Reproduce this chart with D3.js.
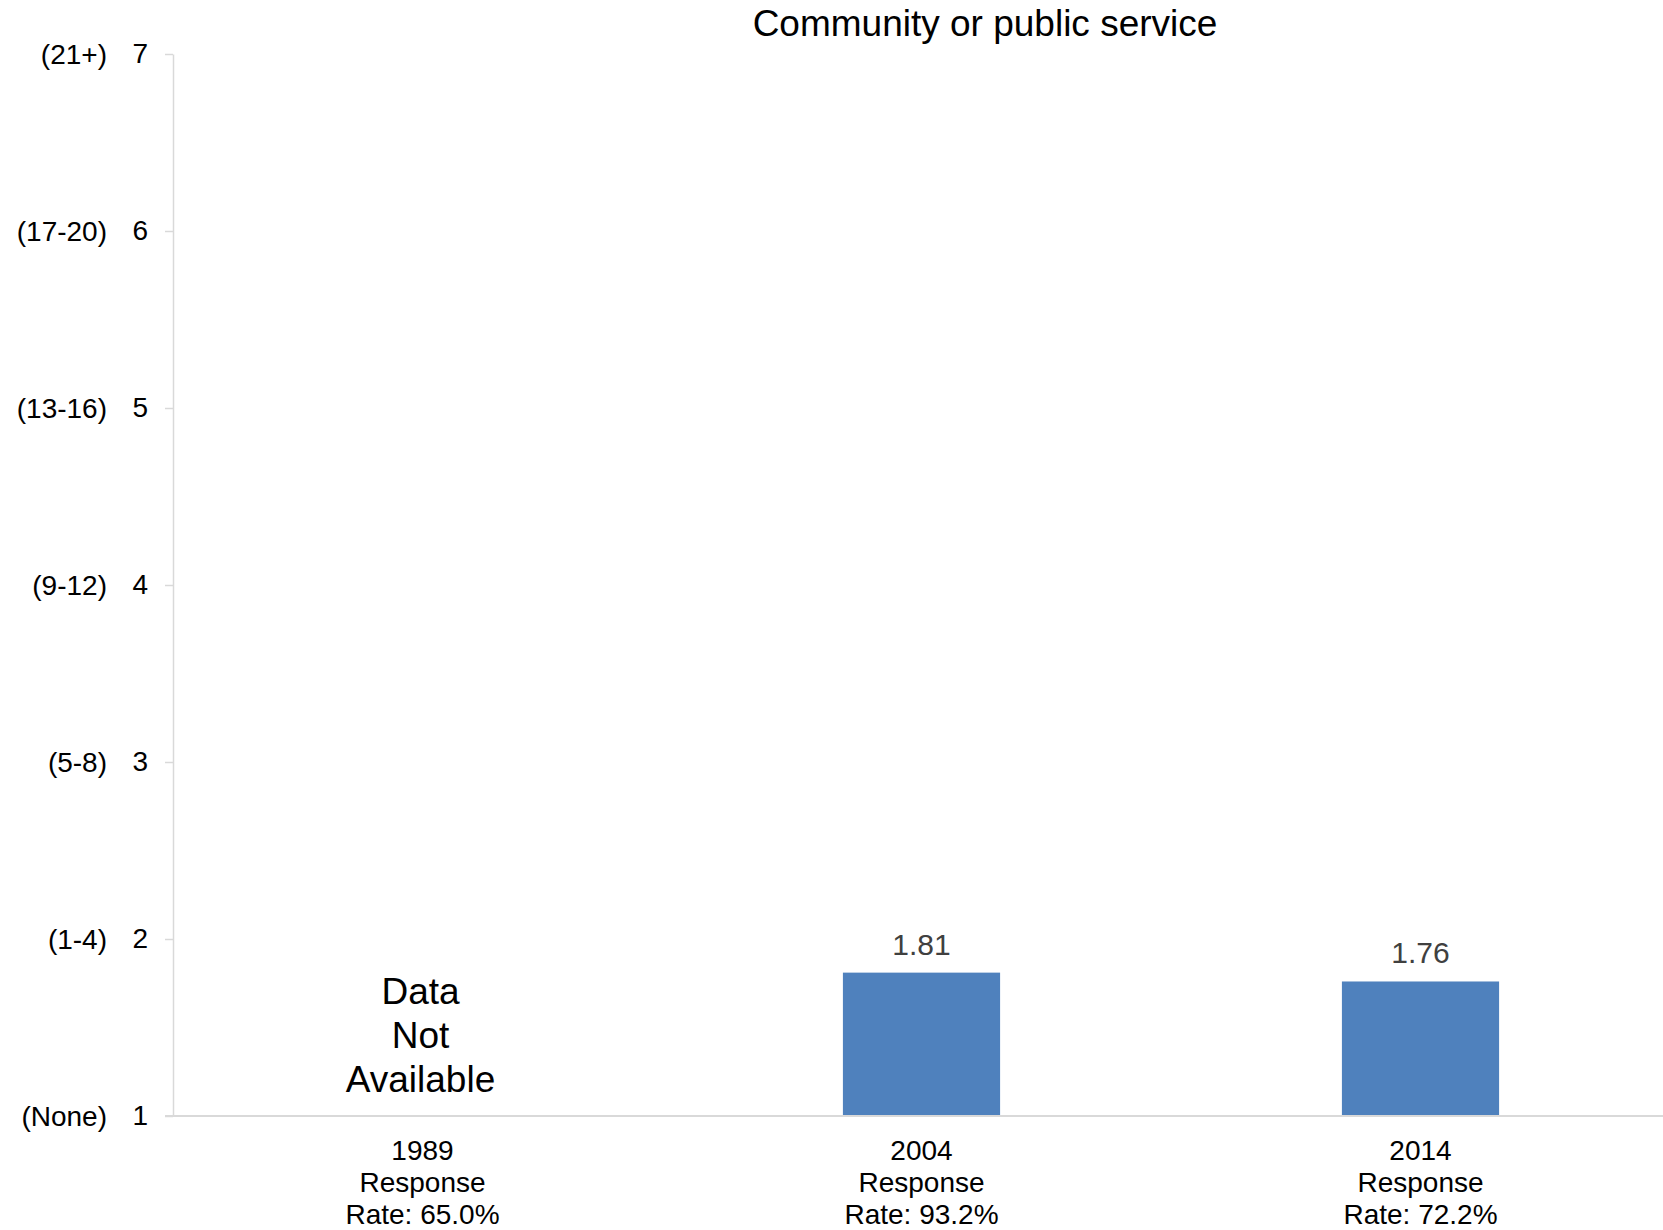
<!DOCTYPE html>
<html>
<head>
<meta charset="utf-8">
<script src="https://cdn.jsdelivr.net/npm/d3@7"></script>
<style>
  body { margin: 0; background: #fff; }
  text { font-family: "Liberation Sans", Arial, sans-serif; }
</style>
</head>
<body>
<svg id="chart" width="1663" height="1230"></svg>
<script>
const years = ['1989', '2004', '2014']
const responseRates = ['65.0%', '93.2%', '72.2%']
const values = [null, 1.81, 1.76]
const yTicks = [1, 2, 3, 4, 5, 6, 7]
const yTickLabels = ['(None)', '(1-4)', '(5-8)', '(9-12)', '(13-16)', '(17-20)', '(21+)']
const missingText = ['Data', 'Not', 'Available']

const svg = d3.select('#chart')

const margin = { top: 54, left: 173 }
const plotBottom = 1116
const plotRight = 1670

const xScale = d3.scaleBand()
  .domain(years)
  .range([margin.left, plotRight])
  .padding(0)

const yScale = d3.scaleLinear()
  .domain([1, 7])
  .range([plotBottom, margin.top])

const barWidth = xScale.bandwidth() * 0.315

// title
svg.append('text')
  .text('Community or public service')
  .attr('x', 985)
  .attr('y', 36)
  .attr('text-anchor', 'middle')
  .attr('font-size', 37)
  .attr('fill', '#000')

// left axis with numbers
const leftAxis = d3.axisLeft(yScale)
  .tickValues(yTicks)
  .tickFormat(d3.format('d'))
  .tickSize(8)
  .tickSizeOuter(0)
  .tickPadding(17)

const yAxisG = svg.append('g')
  .attr('transform', `translate(${margin.left}, 0)`)
  .call(leftAxis)

yAxisG.select('.domain').attr('stroke', '#d9d9d9').attr('stroke-width', 1.5)
yAxisG.selectAll('.tick line').attr('stroke', '#d9d9d9').attr('stroke-width', 1.5)
yAxisG.selectAll('.tick text')
  .attr('font-size', 28)
  .attr('font-family', '"Liberation Sans", Arial, sans-serif')
  .attr('fill', '#000')

// range labels next to the numbers
svg.append('g')
  .selectAll('text')
  .data(yTicks)
  .enter()
  .append('text')
  .attr('x', 107)
  .attr('y', d => yScale(d))
  .attr('dy', '0.35em')
  .attr('text-anchor', 'end')
  .attr('font-size', 28)
  .attr('fill', '#000')
  .text((d, i) => yTickLabels[i])

// bars
const barData = years.map((y, i) => ({ year: y, value: values[i], rate: responseRates[i] }))

svg.append('g')
  .selectAll('rect')
  .data(barData.filter(d => d.value !== null))
  .enter()
  .append('rect')
  .attr('x', d => xScale(d.year) + xScale.bandwidth() / 2 - barWidth / 2)
  .attr('y', d => yScale(d.value))
  .attr('width', barWidth)
  .attr('height', d => yScale(1) - yScale(d.value))
  .attr('fill', '#4f81bd')

// value labels
svg.append('g')
  .selectAll('text')
  .data(barData.filter(d => d.value !== null))
  .enter()
  .append('text')
  .attr('x', d => xScale(d.year) + xScale.bandwidth() / 2)
  .attr('y', d => yScale(d.value) - 18)
  .attr('text-anchor', 'middle')
  .attr('font-size', 30)
  .attr('fill', '#404040')
  .text(d => d.value.toFixed(2))

// "Data Not Available" for missing year
barData.filter(d => d.value === null).forEach(d => {
  const t = svg.append('text')
    .attr('text-anchor', 'middle')
    .attr('font-size', 37)
    .attr('fill', '#000')
  missingText.forEach((line, i) => {
    t.append('tspan')
      .attr('x', xScale(d.year) + xScale.bandwidth() / 2 - 2)
      .attr('y', 1004 + i * 44)
      .text(line)
  })
})

// baseline
svg.append('line')
  .attr('x1', margin.left - 8)
  .attr('x2', 1663)
  .attr('y1', yScale(1))
  .attr('y2', yScale(1))
  .attr('stroke', '#d9d9d9')
  .attr('stroke-width', 2)

// category labels
const catG = svg.append('g')
barData.forEach(d => {
  const t = catG.append('text')
    .attr('text-anchor', 'middle')
    .attr('font-size', 28)
    .attr('fill', '#000')
  const lines = [d.year, 'Response', 'Rate: ' + d.rate]
  lines.forEach((line, i) => {
    t.append('tspan')
      .attr('x', xScale(d.year) + xScale.bandwidth() / 2)
      .attr('y', 1160 + i * 32)
      .text(line)
  })
})
</script>
</body>
</html>
